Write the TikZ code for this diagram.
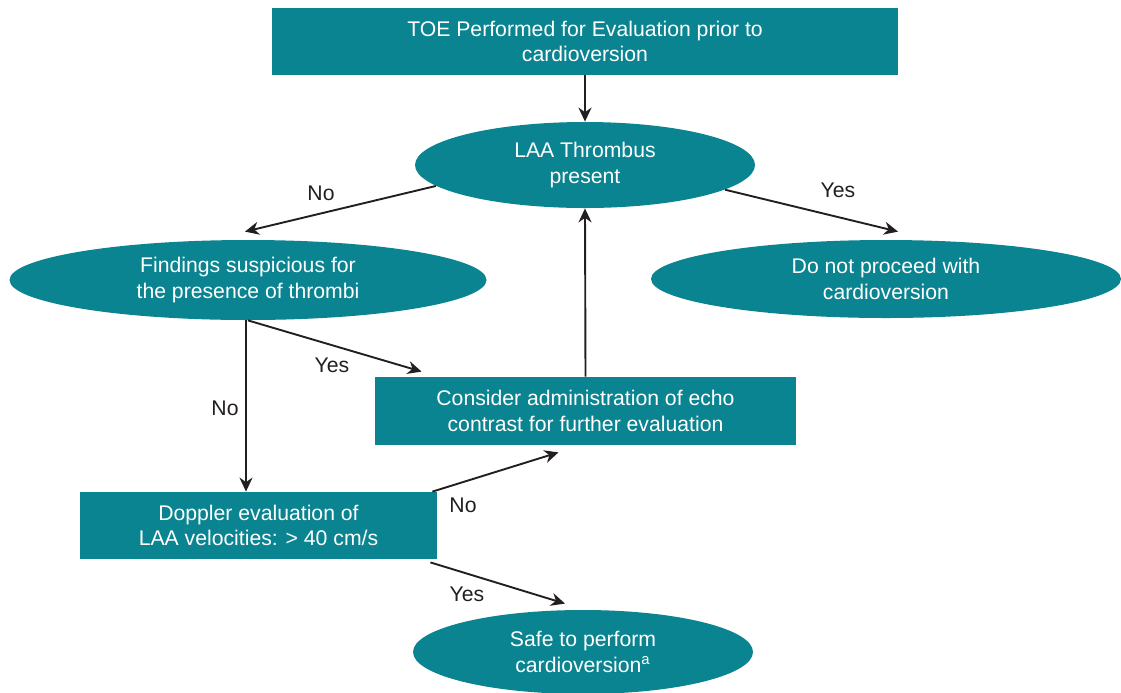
\documentclass[tikz,border=0pt]{standalone}
\usepackage{fontspec}
\setmainfont{Liberation Sans}
\usetikzlibrary{arrows.meta,shapes.geometric}
\definecolor{tealbox}{RGB}{10,132,144}
\definecolor{inkdark}{RGB}{35,31,32}

\begin{document}
\begin{tikzpicture}[x=0.5pt, y=-0.5pt,
    process/.style ={rectangle, fill=tealbox, text=white, align=center, inner sep=0pt,
                     font=\fontsize{10.6}{12.7}\selectfont},
    decision/.style ={ellipse, fill=tealbox, text=white, align=center, inner sep=0pt,
                     font=\fontsize{10.6}{12.7}\selectfont},
    link/.style ={line width=0.95pt, draw=inkdark, -{Stealth[length=7pt,width=6.5pt]}},
    answer/.style ={text=inkdark, font=\fontsize{10.6}{12}\selectfont}]
   \useasboundingbox (0,0) rectangle (1121,692);
   % boxes
   \node[process, minimum width=313pt, minimum height=33.5pt] (toe) at (585,41.5)
      {TOE Performed for Evaluation prior to\\cardioversion};
   \node[decision, minimum width=170pt, minimum height=43pt] (laa) at (585,165)
      {LAA Thrombus\\present};
   \node[decision, minimum width=238.5pt, minimum height=40pt] (find) at (248,280)
      {Findings suspicious for\\the presence of thrombi};
   \node[decision, minimum width=235pt, minimum height=39pt] (stop) at (886,279)
      {Do not proceed with\\cardioversion};
   \node[process, minimum width=210.5pt, minimum height=34pt] (contrast) at (585.5,411)
      {Consider administration of echo\\contrast for further evaluation};
   \node[process, minimum width=178.5pt, minimum height=33.5pt] (doppler) at (258.5,525.5)
      {Doppler evaluation of\\LAA velocities: > 40 cm/s};
   \node[decision, minimum width=170pt, minimum height=42pt] (safe) at (583,652)
      {Safe to perform\\cardioversion\textsuperscript{a}};
   % arrows
   \draw[link] (toe.south) -- (laa.north);
   \draw[link] (laa.188) -- ([shift={(-3,-8)}]find.north);
   \draw[link] (laa.-10) -- ([shift={(12,-8)}]stop.north);
   \draw[link] ([xshift=-1pt]find.south) -- ([xshift=-1pt]find.south |- doppler.north);
   \draw[link] (find.south) -- ([shift={(47,-5)}]contrast.north west);
   \draw[link] (contrast.north) -- (laa.south);
   \draw[link] ([xshift=-2.5pt]doppler.north east) -- ([shift={(-27,7)}]contrast.south);
   \draw[link] ([shift={(-7,3)}]doppler.south east) -- ([shift={(-18,-6)}]safe.north);
   % labels
   \node[answer] (no1) at (321,193) {No};
   \node[answer] (yes1) at (838,190) {Yes};
   \node[answer] (no2) at (225,408) {No};
   \node[answer] (yes2) at (332,365) {Yes};
   \node[answer] (no3) at (463,505) {No};
   \node[answer] (yes3) at (467,594) {Yes};
 \end{tikzpicture}
\end{document}
